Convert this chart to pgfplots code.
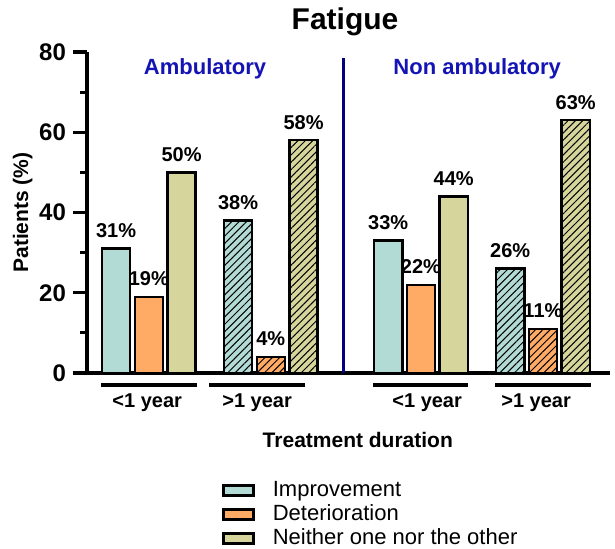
\documentclass[border=0pt]{standalone}
\usepackage{fontspec}
\setmainfont{Liberation Sans}
\usepackage{pgfplots}
\pgfplotsset{compat=1.18}
\usetikzlibrary{patterns.meta}

\definecolor{impr}{HTML}{B3DBD6}
\definecolor{deter}{HTML}{FFAB66}
\definecolor{neith}{HTML}{D6D69C}
\definecolor{grp}{HTML}{1414B4}
\definecolor{sep}{HTML}{000080}

\tikzset{hatch/.style={postaction={pattern={Lines[angle=45,distance=2.6pt,line width=0.5pt]},pattern color=black}}}

\begin{document}
\begin{tikzpicture}
\useasboundingbox (0pt,0pt) rectangle (307.5pt,274.5pt);
\begin{axis}[
  at={(43.5pt,88pt)}, anchor=south west,
  scale only axis, width=261.5pt, height=160.5pt,
  xmin=-0.89, xmax=15.1, ymin=0, ymax=80,
  axis x line*=bottom, axis y line*=left,
  axis line style={-, line width=1.6pt},
  xtick=\empty,
  ytick={0,20,40,60,80}, minor ytick={10,30,50,70},
  tick align=outside, major tick length=7pt, minor tick length=3.5pt,
  tick style={line width=1.6pt, black},
  /pgf/number format/assume math mode=true,
  yticklabel style={font=\bfseries\fontsize{12}{14}\selectfont},
  ylabel={Patients (\%)},
  ylabel style={font=\bfseries\fontsize{10.5}{12}\selectfont, yshift=-3.5pt},
  clip=false,
  nodes near coords={\pgfmathprintnumber{\pgfplotspointmeta}\%},
  nodes near coords style={font=\bfseries\fontsize{10}{12}\selectfont, yshift=1.5pt},
  every axis plot/.append style={ybar, bar width=0.86, bar shift=0pt, draw=black, line width=1.2pt},
  legend style={at={(0.258,-0.327)}, anchor=north west, draw=none, fill=none,
    inner sep=0pt, font=\fontsize{11}{12}\selectfont, row sep=0pt,
    nodes={inner sep=1pt, text height=8pt, text depth=2pt}},
  legend cell align=left,
  legend image code/.code={\draw[#1, line width=1.3pt] (0pt,-2.5pt) rectangle (15pt,2.5pt);
    \path (23pt,0pt);},
]
% < 1 year (plain)
\addplot[fill=impr] coordinates {(0,31) (8.32,33)};
\addplot[fill=deter] coordinates {(1,19) (9.32,22)};
\addplot[fill=neith] coordinates {(2,50) (10.32,44)};
% > 1 year (hatched)
\addplot[fill=impr, hatch, forget plot] coordinates {(3.73,38) (12.05,26)};
\addplot[fill=deter, hatch, forget plot] coordinates {(4.73,4) (13.05,11)};
\addplot[fill=neith, hatch, forget plot] coordinates {(5.73,58) (14.05,63)};
\legend{Improvement, Deterioration, Neither one nor the other}

\draw[line width=2pt] (axis cs:-0.46,-3) -- (axis cs:2.48,-3);
\draw[line width=2pt] (axis cs:2.84,-3) -- (axis cs:5.78,-3);
\draw[line width=2pt] (axis cs:7.86,-3) -- (axis cs:10.76,-3);
\draw[line width=2pt] (axis cs:11.59,-3) -- (axis cs:14.53,-3);
\begin{scope}[every node/.style={font=\bfseries\fontsize{10}{12}\selectfont}]
\node at (axis cs:0.95,-7.4) {<1 year};
\node at (axis cs:4.31,-7.4) {>1 year};
\node at (axis cs:9.51,-7.4) {<1 year};
\node at (axis cs:12.84,-7.4) {>1 year};
\end{scope}
\node[font=\bfseries\fontsize{10.5}{12}\selectfont] at (axis cs:7.39,-16.75) {Treatment duration};
\draw[sep, line width=1.6pt] (axis cs:6.94,0) -- (axis cs:6.94,78.5);
\node[grp, font=\bfseries\fontsize{11}{13}\selectfont] at (axis cs:2.72,75.7) {Ambulatory};
\node[grp, font=\bfseries\fontsize{11}{13}\selectfont] at (axis cs:11.04,75.7) {Non ambulatory};
\node[font=\bfseries\fontsize{15}{17}\selectfont] at (axis cs:7.0,87.5) {Fatigue};
\end{axis}
\end{tikzpicture}
\end{document}
